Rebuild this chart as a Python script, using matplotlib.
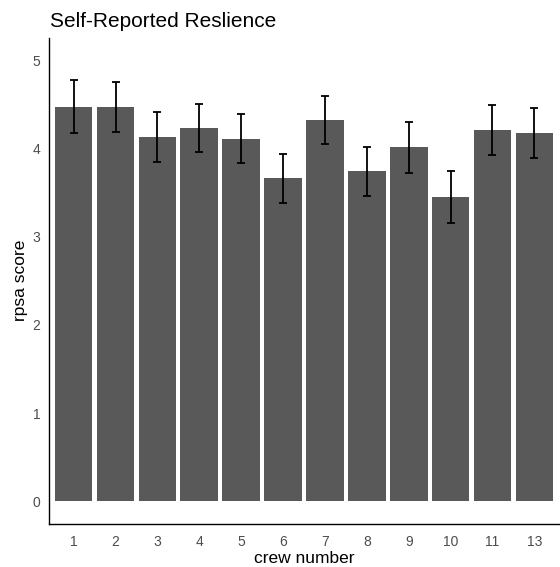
import matplotlib
matplotlib.use("Agg")
import matplotlib.pyplot as plt
import numpy as np

crews = ["1", "2", "3", "4", "5", "6", "7", "8", "9", "10", "11", "13"]
means = [4.47, 4.47, 4.13, 4.23, 4.11, 3.66, 4.32, 3.74, 4.01, 3.45, 4.21, 4.17]
errs = [0.30, 0.28, 0.28, 0.27, 0.28, 0.28, 0.27, 0.28, 0.29, 0.295, 0.28, 0.285]
yticks = [0, 1, 2, 3, 4, 5]

plt.rcParams['font.family'] = ['Liberation Sans', 'DejaVu Sans']

fig = plt.figure(figsize=(5.6, 5.67), dpi=100)
W, H = 560, 567
left, right, top, bottom = 48.5, 559.5, 38, 523.5
ax = fig.add_axes([left / W, 1 - bottom / H, (right - left) / W, (bottom - top) / H])

x = np.arange(len(crews))
ax.bar(x, means, width=0.9, color="#595959", edgecolor="none", zorder=2)
ax.errorbar(x, means, yerr=errs, fmt="none", ecolor="black", elinewidth=1.3,
            capsize=3.2, capthick=1.3, zorder=3)

ax.set_xlim(-0.6, len(crews) - 0.4)
ax.set_ylim(-0.25, 5.25)
ax.set_xticks(x)
ax.set_xticklabels(crews)
ax.set_yticks(yticks)
ax.tick_params(axis="both", length=0, labelsize=10, labelcolor="#4D4D4D")
ax.tick_params(axis="x", pad=8)
ax.tick_params(axis="y", pad=6)

for s in ["top", "right"]:
    ax.spines[s].set_visible(False)
for s in ["left", "bottom"]:
    ax.spines[s].set_linewidth(1.0)
    ax.spines[s].set_color("black")

ax.set_xlabel("crew number", fontsize=12.5, color="black", labelpad=2)
ax.set_ylabel("rpsa score", fontsize=12.5, color="black", labelpad=3)
fig.text(50 / W, 1 - 27 / H, "Self-Reported Reslience", fontsize=15,
         ha="left", va="baseline", color="black")

fig.savefig("out.png", dpi=100)
